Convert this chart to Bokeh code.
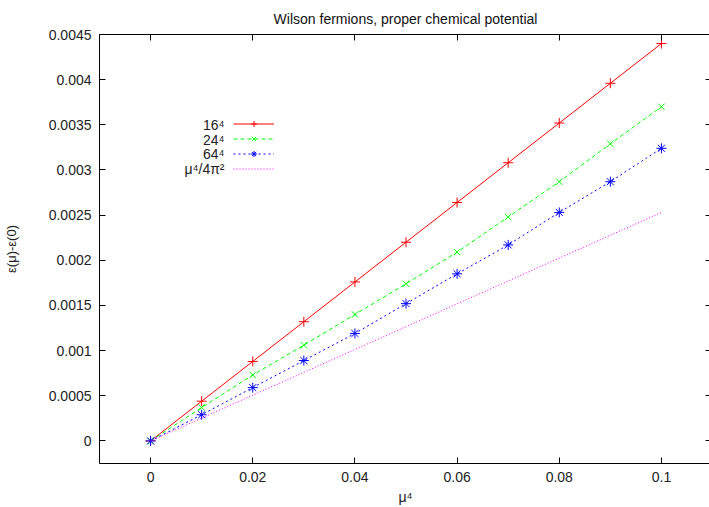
from bokeh.plotting import figure
from bokeh.models import (Range1d, FixedTicker, CustomJSTickFormatter, LinearAxis,
                          Legend, LegendItem, Label)
from bokeh.embed import file_html
from bokeh.resources import INLINE

# ---- data -------------------------------------------------------------
mu4 = [0.0, 0.01, 0.02, 0.03, 0.04, 0.05, 0.06, 0.07, 0.08, 0.09, 0.1]
eps_16 = [0.0, 0.00044, 0.00088, 0.00132, 0.00176, 0.0022, 0.00264, 0.00308, 0.00352, 0.00396, 0.0044]
eps_24 = [0.0, 0.00037, 0.00073, 0.00106, 0.0014, 0.00174, 0.00209, 0.00248, 0.00287, 0.00329, 0.0037]
eps_64 = [0.0, 0.00029, 0.00059, 0.00089, 0.00119, 0.00152, 0.00185, 0.00217, 0.00253, 0.00287, 0.00324]
free_x = [0.0, 0.1]
free_y = [0.0, 0.00253]
x_ticks = [0, 0.02, 0.04, 0.06, 0.08, 0.1]
y_ticks = [0, 0.0005, 0.001, 0.0015, 0.002, 0.0025, 0.003, 0.0035, 0.004, 0.0045]
legend_labels = ["16\u2074", "24\u2074", "64\u2074", "\u03bc\u2074/4\u03c0\u00b2"]
title_text = "Wilson fermions, proper chemical potential"
x_label = "\u03bc\u2074"
y_label = "\u03b5(\u03bc)-\u03b5(0)"

FONT = "Liberation Sans"

p = figure(frame_width=612, frame_height=429,
           x_range=Range1d(-0.01, 0.1098), y_range=Range1d(-0.00025, 0.0045),
           output_backend="svg", toolbar_location=None,
           min_border_left=94, min_border_right=0, min_border_top=34, min_border_bottom=44,
           x_axis_label=x_label, y_axis_label=y_label)

p.title.text = title_text
p.title.align = "center"
p.title.vertical_align = "top"
p.title.text_font = FONT
p.title.text_font_size = "14px"
p.title.text_font_style = "normal"
p.title.text_color = "#111111"
p.title.standoff = 12

p.grid.visible = False
p.outline_line_color = None
p.background_fill_color = "white"
p.border_fill_color = "white"

fmt = CustomJSTickFormatter(code="return String(Number(tick.toPrecision(6)));")
blank_fmt = CustomJSTickFormatter(code="return '';")

def style_axis(ax, ticks, show_labels=True, show_line=True):
    ax.ticker = FixedTicker(ticks=ticks)
    ax.major_tick_in = 6
    ax.major_tick_out = 0
    ax.minor_tick_line_color = None
    ax.major_tick_line_color = "black"
    ax.axis_line_color = "black" if show_line else None
    ax.axis_line_width = 1
    if show_labels:
        ax.formatter = fmt
        ax.major_label_text_font = FONT
        ax.major_label_text_font_size = "14px"
        ax.major_label_text_color = "#222222"
        ax.major_label_standoff = 8
    else:
        ax.formatter = blank_fmt
        ax.major_label_standoff = 0

style_axis(p.xaxis[0], x_ticks)
style_axis(p.yaxis[0], y_ticks)
p.xaxis[0].axis_label_text_font = FONT
p.xaxis[0].axis_label_text_font_size = "14px"
p.xaxis[0].axis_label_text_font_style = "normal"
p.xaxis[0].axis_label_text_color = "#222222"
p.xaxis[0].axis_label_standoff = 4
p.yaxis[0].axis_label_text_font = FONT
p.yaxis[0].axis_label_text_font_size = "13px"
p.yaxis[0].axis_label_text_font_style = "normal"
p.yaxis[0].axis_label_text_color = "#222222"
p.yaxis[0].axis_label_standoff = 27

top_ax = LinearAxis()
style_axis(top_ax, x_ticks, show_labels=False)
p.add_layout(top_ax, "above")
right_ax = LinearAxis()
style_axis(right_ax, y_ticks, show_labels=False, show_line=False)
p.add_layout(right_ax, "right")

# ---- series -----------------------------------------------------------
l16 = p.line(mu4, eps_16, line_color="#ff0000", line_width=1)
m16 = p.scatter(mu4, eps_16, marker="cross", size=10, line_color="#ff0000", line_width=1)
l24 = p.line(mu4, eps_24, line_color="#00ff00", line_width=1, line_dash="4 3")
m24 = p.scatter(mu4, eps_24, marker="x", size=9, line_color="#00ff00", line_width=1)
l64 = p.line(mu4, eps_64, line_color="#0000ff", line_width=1, line_dash="2 3")
m64 = p.scatter(mu4, eps_64, marker="asterisk", size=10, line_color="#0000ff", line_width=1)
lfree = p.line(free_x, free_y, line_color="#ff00ff", line_width=1, line_dash="1 2")

items = [LegendItem(label=" ", renderers=[l16, m16]),
         LegendItem(label=" ", renderers=[l24, m24]),
         LegendItem(label=" ", renderers=[l64, m64]),
         LegendItem(label=" ", renderers=[lfree])]
legend = Legend(items=items, location=(134, 287), glyph_width=41, glyph_height=15,
                spacing=0, padding=0, margin=0, label_text_font_size="8px",
                label_width=1, label_standoff=0,
                background_fill_alpha=0, border_line_color=None)
p.add_layout(legend, "center")

row_y = [339, 324, 310, 295]
for txt, yy in zip(legend_labels, row_y):
    p.add_layout(Label(x=125, y=yy, x_units="screen", y_units="screen", text=txt,
                       text_align="right", text_baseline="middle",
                       text_font=FONT, text_font_size="14px", text_color="#222222"))

open("out.html", "w").write(file_html(p, INLINE))
